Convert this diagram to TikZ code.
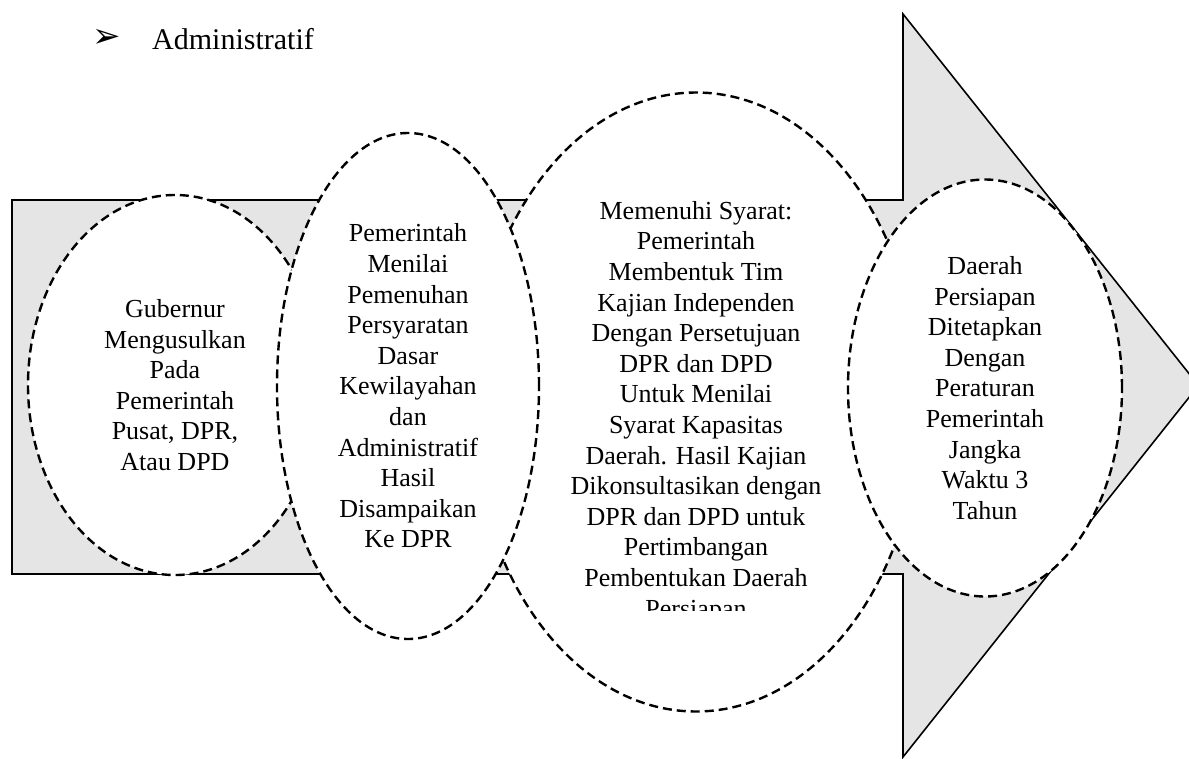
\documentclass[tikz,border=0pt]{standalone}
\usepackage{fontspec}
\setmainfont{Liberation Serif}
\newfontfamily\dingfont{DejaVu Sans}
\usetikzlibrary{shapes.geometric}

\begin{document}
\begin{tikzpicture}[x=1pt,y=-1pt,
    bubble/.style={ellipse,draw,fill=white,line width=2.4pt,
      dash pattern=on 9pt off 5pt,inner sep=0pt,align=center,
      font=\fontsize{26}{30.6}\selectfont},
    bubbletext/.style={align=center,inner sep=0pt,
      font=\fontsize{26}{30.6}\selectfont}]
  \clip (0,0) rectangle (1189,758);
  \node[anchor=base west,inner sep=0pt,font=\fontsize{30}{36}\selectfont]
    (head) at (152,49) {Administratif};
  \node[inner sep=0pt,font=\dingfont\fontsize{34}{40}\selectfont]
    (bullet) at (107,38) {➢};
  \draw[fill=gray!20,line width=1.6pt]
    (12,200)--(903,200)--(903,14)--(1198.5,385.5)--(903,757)--(903,574)--(12,574)--cycle;
  \node[bubble,minimum width=294,minimum height=380] (gub) at (175,385)
    {Gubernur\\Mengusulkan\\Pada\\Pemerintah\\Pusat, DPR,\\Atau DPD};
  \node[bubble,minimum width=448,minimum height=619] (kaji) at (696,402) {};
  \begin{scope}
    \clip (420,0) rectangle (960,610);
    \node[bubbletext,anchor=north] (kajitxt) at (696,201)
      {Memenuhi Syarat:\\Pemerintah\\Membentuk Tim\\Kajian Independen\\Dengan Persetujuan\\DPR dan DPD\\Untuk Menilai\\Syarat Kapasitas\\Daerah. Hasil Kajian\\Dikonsultasikan dengan\\DPR dan DPD untuk\\Pertimbangan\\Pembentukan Daerah\\Persiapan};
  \end{scope}
  \node[bubble,minimum width=262,minimum height=506] (nilai) at (408,386)
    {Pemerintah\\Menilai\\Pemenuhan\\Persyaratan\\Dasar\\Kewilayahan\\dan\\Administratif\\Hasil\\Disampaikan\\Ke DPR};
  \node[bubble,minimum width=274,minimum height=417] (tetap) at (985,388)
    {Daerah\\Persiapan\\Ditetapkan\\Dengan\\Peraturan\\Pemerintah\\Jangka\\Waktu 3\\Tahun};
\end{tikzpicture}
\end{document}
